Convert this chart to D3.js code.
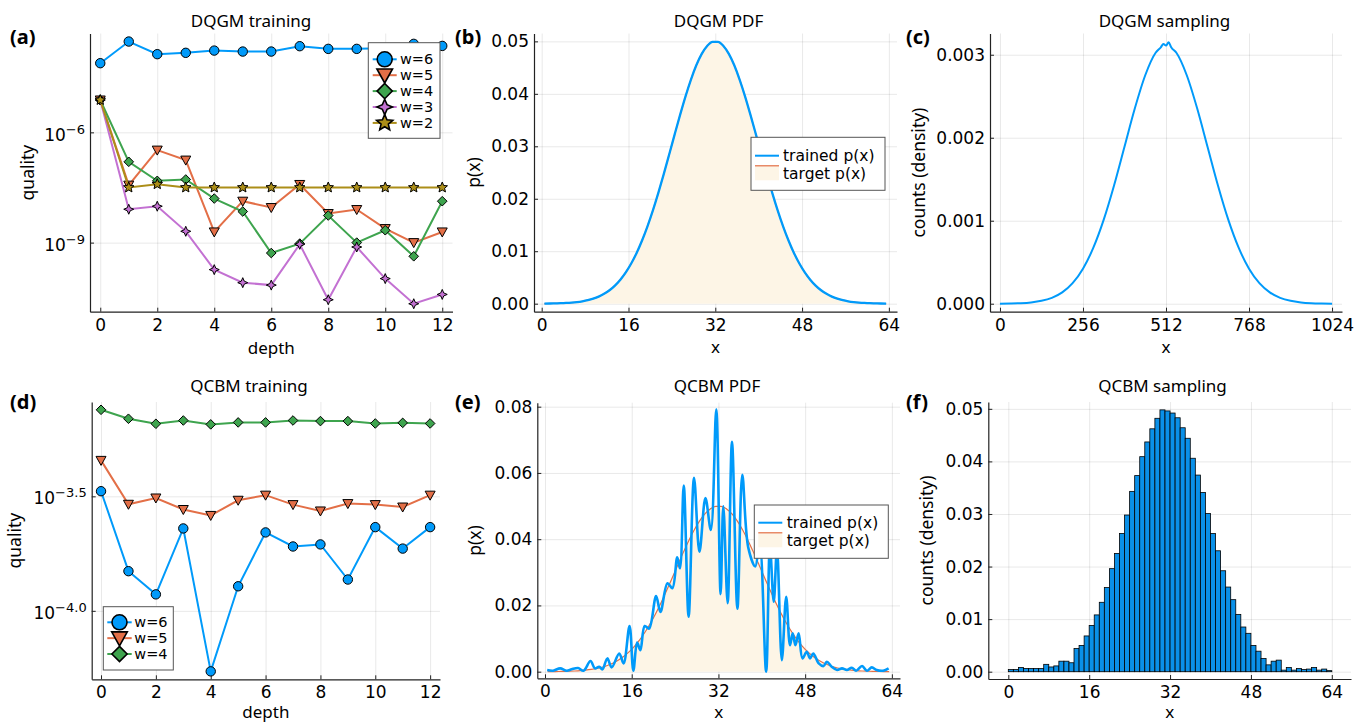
<!DOCTYPE html>
<html>
<head>
<meta charset="utf-8">
<script src="https://cdn.jsdelivr.net/npm/d3@7"></script>
<style>
  body { margin: 0; background: #fff; }
  svg { display: block; }
</style>
</head>
<body>
<div id="chart"></div>
<script>
// ---------------- data ----------------
const depths = [0, 1, 2, 3, 4, 5, 6, 7, 8, 9, 10, 11, 12];

// DQGM training quality vs depth (log scale)
const dqgmW6 = [7.62e-5, 2.96e-4, 1.34e-4, 1.46e-4, 1.68e-4, 1.58e-4, 1.58e-4, 2.21e-4, 1.87e-4, 1.87e-4, 1.95e-4, 2.56e-4, 2.25e-4];
const dqgmW5 = [7.6e-6, 3.66e-8, 3.29e-7, 1.76e-7, 1.95e-9, 1.34e-8, 9.0e-9, 3.82e-8, 6.18e-9, 7.94e-9, 2.41e-9, 1.0e-9, 1.95e-9];
const dqgmW4 = [7.6e-6, 1.58e-7, 4.79e-8, 5.22e-8, 1.58e-8, 7.02e-9, 5.21e-10, 9.4e-10, 5.46e-9, 1.0e-9, 2.17e-9, 4.24e-10, 1.34e-8];
const dqgmW3 = [7.6e-6, 8.09e-9, 9.77e-9, 2.03e-9, 1.84e-10, 8.13e-11, 6.98e-11, 9.0e-10, 2.79e-11, 7.59e-10, 1.05e-10, 2.17e-11, 3.89e-11];
const dqgmW2 = [7.6e-6, 3.16e-8, 3.89e-8, 3.16e-8, 3.16e-8, 3.16e-8, 3.16e-8, 3.16e-8, 3.16e-8, 3.16e-8, 3.16e-8, 3.16e-8, 3.16e-8];

// QCBM training quality vs depth (log scale)
const qcbmW6 = [3.33e-4, 1.49e-4, 1.18e-4, 2.29e-4, 5.44e-5, 1.28e-4, 2.20e-4, 1.91e-4, 1.95e-4, 1.37e-4, 2.32e-4, 1.87e-4, 2.32e-4];
const qcbmW5 = [4.54e-4, 2.92e-4, 3.11e-4, 2.77e-4, 2.61e-4, 3.04e-4, 3.20e-4, 2.91e-4, 2.73e-4, 2.94e-4, 2.91e-4, 2.84e-4, 3.20e-4];
const qcbmW4 = [7.55e-4, 6.90e-4, 6.56e-4, 6.78e-4, 6.52e-4, 6.65e-4, 6.65e-4, 6.78e-4, 6.74e-4, 6.74e-4, 6.58e-4, 6.62e-4, 6.58e-4];

// target pdf p(x) on the 64-point grid
const gridX = [0.5, 1.5, 2.5, 3.5, 4.5, 5.5, 6.5, 7.5, 8.5, 9.5, 10.5, 11.5, 12.5, 13.5, 14.5, 15.5,
  16.5, 17.5, 18.5, 19.5, 20.5, 21.5, 22.5, 23.5, 24.5, 25.5, 26.5, 27.5, 28.5, 29.5, 30.5, 31.5,
  32.5, 33.5, 34.5, 35.5, 36.5, 37.5, 38.5, 39.5, 40.5, 41.5, 42.5, 43.5, 44.5, 45.5, 46.5, 47.5,
  48.5, 49.5, 50.5, 51.5, 52.5, 53.5, 54.5, 55.5, 56.5, 57.5, 58.5, 59.5, 60.5, 61.5, 62.5, 63.5];
const targetP = [0.00002, 0.00003, 0.00006, 0.00009, 0.00014, 0.00021, 0.00031, 0.00046, 0.00067, 0.00096, 0.00135, 0.00188, 0.00256, 0.00345, 0.00457, 0.00596,
  0.00765, 0.00967, 0.01204, 0.01475, 0.01779, 0.02113, 0.02470, 0.02843, 0.03222, 0.03594, 0.03948, 0.04268, 0.04544, 0.04762, 0.04913, 0.04990,
  0.04990, 0.04913, 0.04762, 0.04544, 0.04268, 0.03948, 0.03594, 0.03222, 0.02843, 0.02470, 0.02113, 0.01779, 0.01475, 0.01204, 0.00967, 0.00765,
  0.00596, 0.00457, 0.00345, 0.00256, 0.00188, 0.00135, 0.00096, 0.00067, 0.00046, 0.00031, 0.00021, 0.00014, 0.00009, 0.00006, 0.00003, 0.00002];
// DQGM trained pdf (lies on top of the target)
const dqgmTrainedP = [0.00002, 0.00003, 0.00006, 0.00009, 0.00014, 0.00021, 0.00031, 0.00046, 0.00067, 0.00096, 0.00135, 0.00188, 0.00256, 0.00345, 0.00457, 0.00596,
  0.00765, 0.00967, 0.01204, 0.01475, 0.01779, 0.02113, 0.02470, 0.02843, 0.03222, 0.03594, 0.03948, 0.04268, 0.04544, 0.04762, 0.04913, 0.04990,
  0.04990, 0.04913, 0.04762, 0.04544, 0.04268, 0.03948, 0.03594, 0.03222, 0.02843, 0.02470, 0.02113, 0.01779, 0.01475, 0.01204, 0.00967, 0.00765,
  0.00596, 0.00457, 0.00345, 0.00256, 0.00188, 0.00135, 0.00096, 0.00067, 0.00046, 0.00031, 0.00021, 0.00014, 0.00009, 0.00006, 0.00003, 0.00002];

// DQGM sampling density over 1024 points
const dqgmSampleX = [0, 32, 64, 96, 128, 160, 192, 224, 256, 288, 320, 352, 384, 416, 448, 480, 496, 504, 512, 520, 528,
  544, 576, 608, 640, 672, 704, 736, 768, 800, 832, 864, 896, 928, 960, 992, 1024];
const dqgmSampleY = [0.000001, 0.0000028, 0.0000068, 0.0000159, 0.0000347, 0.0000711, 0.000137, 0.000248, 0.000422, 0.000675,
  0.001013, 0.001428, 0.001892, 0.002355, 0.002753, 0.003024, 0.00309, 0.00313, 0.00311, 0.00315, 0.00309,
  0.003024, 0.002753, 0.002355, 0.001892, 0.001428, 0.001013, 0.000675, 0.000422, 0.000248, 0.000137,
  0.0000711, 0.0000347, 0.0000159, 0.0000068, 0.0000028, 0.000001];

// QCBM trained pdf (oscillating)
const qcbmTrainedX = [0.4, 1.5, 2.8, 4.0, 4.9, 6.1, 7.1, 8.4, 9.2, 10.0, 10.6, 11.5, 12.3, 13.7, 14.5, 15.6, 16.3, 17.0, 17.6,
  18.4, 19.2, 20.5, 21.3, 22.6, 23.5, 24.4, 24.9, 25.6, 26.5, 27.5, 28.5, 29.6, 30.6, 31.6, 32.4, 32.9, 33.7, 34.5, 35.5,
  36.4, 37.5, 38.8, 39.6, 40.8, 41.5, 42.2, 42.8, 43.7, 44.5, 45.2, 45.7, 46.2, 46.8, 47.5, 48.3, 48.9, 49.5, 50.5, 51.4,
  52.0, 52.9, 53.9, 54.8, 55.7, 56.6, 57.4, 58.5, 59.4, 60.3, 61.2, 62.4, 63.4];
const qcbmTrainedY = [0.0005, 0.0003, 0.0010, 0.0003, 0.0007, 0.0011, 0.0003, 0.0032, 0.0010, 0.0015, 0.0007, 0.0040, 0.0013, 0.0055, 0.0025, 0.0138, 0.0003, 0.0088, 0.0065,
  0.0138, 0.0130, 0.0228, 0.0180, 0.0267, 0.0252, 0.0345, 0.0312, 0.0562, 0.0166, 0.0585, 0.0362, 0.0524, 0.0428, 0.0792, 0.0234, 0.0499, 0.0207, 0.0694, 0.0190,
  0.0594, 0.0375, 0.0318, 0.0390, 0.0000, 0.0380, 0.0211, 0.0370, 0.0035, 0.0226, 0.0080, 0.0116, 0.0080, 0.0116, 0.0040, 0.0060, 0.0040, 0.0055, 0.0025, 0.0017,
  0.0030, 0.0015, 0.0005, 0.0010, 0.0005, 0.0012, 0.0003, 0.0017, 0.0003, 0.0013, 0.0005, 0.0003, 0.0010];

// QCBM sampling histogram, one bin per x = 0..63
const qcbmHist = [0.0004, 0.0004, 0.0008, 0.0006, 0.0006, 0.0006, 0.0006, 0.0014, 0.0009, 0.0011, 0.0020, 0.0020, 0.0017, 0.0044, 0.0050, 0.0068,
  0.0088, 0.0108, 0.0132, 0.0160, 0.0196, 0.0225, 0.0263, 0.0298, 0.0343, 0.0373, 0.0409, 0.0437, 0.0462, 0.0482, 0.0498, 0.0496,
  0.0492, 0.0483, 0.0464, 0.0444, 0.0406, 0.0374, 0.0341, 0.0301, 0.0263, 0.0230, 0.0192, 0.0161, 0.0137, 0.0109, 0.0085, 0.0073,
  0.0050, 0.0039, 0.0025, 0.0013, 0.0020, 0.0022, 0.0003, 0.0008, 0.0003, 0.0006, 0.0004, 0.0005, 0.0008, 0.0003, 0.0005, 0.0002];

// tick values
const depthTicks = [0, 2, 4, 6, 8, 10, 12];
const x64Ticks = [0, 16, 32, 48, 64];
const x1024Ticks = [0, 256, 512, 768, 1024];
const dqgmQualityTicks = [1e-9, 1e-6];
const qcbmQualityTicks = [Math.pow(10, -4), Math.pow(10, -3.5)];
const pdfTicksB = [0, 0.01, 0.02, 0.03, 0.04, 0.05];
const densTicksC = [0, 0.001, 0.002, 0.003];
const pdfTicksE = [0, 0.02, 0.04, 0.06, 0.08];
const densTicksF = [0, 0.01, 0.02, 0.03, 0.04, 0.05];

// ---------------- drawing ----------------
const W = 1357, H = 723;
const palette = ["#009AFA", "#E36F47", "#3EA44E", "#C371D2", "#AC8E18"];
const fillColor = "#FDF5E6";
const tickFont = "'DejaVu Sans', sans-serif";
const labelFont = "'Noto Sans', sans-serif";

const svg = d3.select("#chart").append("svg").attr("width", W).attr("height", H);

function markerPath(shape, r) {
  const p = d3.path();
  if (shape === "circle") {
    p.moveTo(r, 0); p.arc(0, 0, r, 0, 2 * Math.PI);
  } else if (shape === "dtriangle") {
    p.moveTo(-r, -0.8 * r); p.lineTo(r, -0.8 * r); p.lineTo(0, r); p.closePath();
  } else if (shape === "diamond") {
    p.moveTo(0, -r); p.lineTo(r, 0); p.lineTo(0, r); p.lineTo(-r, 0); p.closePath();
  } else if (shape === "star4") {
    const k = r * 0.3;
    p.moveTo(0, -r); p.lineTo(k, -k); p.lineTo(r, 0); p.lineTo(k, k);
    p.lineTo(0, r); p.lineTo(-k, k); p.lineTo(-r, 0); p.lineTo(-k, -k); p.closePath();
  } else if (shape === "star5") {
    for (let i = 0; i < 10; i++) {
      const a = -Math.PI / 2 + i * Math.PI / 5, rr = i % 2 ? r * 0.45 : r;
      if (i) p.lineTo(rr * Math.cos(a), rr * Math.sin(a)); else p.moveTo(rr * Math.cos(a), rr * Math.sin(a));
    }
    p.closePath();
  }
  return p.toString();
}

function frame(p) {
  const x = d3.scaleLinear().domain(p.xDomain).range([p.left, p.right]);
  const y = (p.yLog ? d3.scaleLog() : d3.scaleLinear()).domain(p.yDomain).range([p.bottom, p.top]);
  const g = svg.append("g");

  // grid
  g.append("g").attr("transform", `translate(0,${p.bottom})`)
    .call(d3.axisBottom(x).tickValues(p.xTicks).tickSize(-(p.bottom - p.top)).tickFormat(""))
    .call(a => a.select(".domain").remove())
    .selectAll("line").attr("stroke", "#000").attr("stroke-opacity", 0.09).attr("stroke-width", 1);
  g.append("g").attr("transform", `translate(${p.left},0)`)
    .call(d3.axisLeft(y).tickValues(p.yTicks).tickSize(-(p.right - p.left)).tickFormat(""))
    .call(a => a.select(".domain").remove())
    .selectAll("line").attr("stroke", "#000").attr("stroke-opacity", 0.09).attr("stroke-width", 1);

  // axes
  const xa = g.append("g").attr("transform", `translate(0,${p.bottom})`)
    .call(d3.axisBottom(x).tickValues(p.xTicks).tickSize(-4).tickSizeOuter(0).tickPadding(7).tickFormat(d3.format("d")))
    .attr("font-family", tickFont).attr("font-size", 17);
  const ya = g.append("g").attr("transform", `translate(${p.left},0)`)
    .call(d3.axisLeft(y).tickValues(p.yTicks).tickSize(-4).tickSizeOuter(0).tickPadding(5)
      .tickFormat(p.yLog ? () => "" : d3.format(p.yFormat)))
    .attr("font-family", tickFont).attr("font-size", 17);
  [xa, ya].forEach(a => {
    a.select(".domain").attr("stroke", "#222").attr("stroke-width", 1.2);
    a.selectAll(".tick line").attr("stroke", "#222").attr("stroke-width", 1);
    a.selectAll(".tick text").attr("fill", "#000");
  });
  if (p.yLog) {
    ya.selectAll(".tick text").attr("dy", "0.45em").each(function (d) {
      const t = d3.select(this);
      t.append("tspan").text("10");
      t.append("tspan").attr("dy", -7).attr("font-size", 13)
        .text("\u2212" + d3.format(p.expFormat)(-Math.log10(d)));
    });
  }

  // title, guides, tag
  svg.append("text").attr("x", p.titleX).attr("y", p.titleY).attr("text-anchor", "middle")
    .attr("font-family", labelFont).attr("font-size", 17).text(p.title);
  svg.append("text").attr("x", (p.left + p.right) / 2).attr("y", p.xLabelY).attr("text-anchor", "middle")
    .attr("font-family", labelFont).attr("font-size", 17).text(p.xLabel);
  svg.append("text").attr("transform", `translate(${p.yLabelX},${(p.top + p.bottom) / 2}) rotate(-90)`)
    .attr("text-anchor", "middle").attr("font-family", labelFont).attr("font-size", 17.5).text(p.yLabel);
  svg.append("text").attr("x", p.tagX).attr("y", p.tagY).attr("font-family", labelFont)
    .attr("font-weight", "bold").attr("font-size", 20).text(p.tag);

  return { x, y };
}

function markerSeries(sc, xs, ys, color, shape, r) {
  const pts = xs.map((d, i) => [d, ys[i]]);
  svg.append("path").datum(pts)
    .attr("fill", "none").attr("stroke", color).attr("stroke-width", 2)
    .attr("d", d3.line().x(d => sc.x(d[0])).y(d => sc.y(d[1])));
  svg.append("g").selectAll("path").data(pts).join("path")
    .attr("transform", d => `translate(${sc.x(d[0])},${sc.y(d[1])})`)
    .attr("d", markerPath(shape, r))
    .attr("fill", color).attr("stroke", "#000").attr("stroke-width", 1);
}

function legendBox(b) {
  svg.append("rect").attr("x", b.x0).attr("y", b.y0).attr("width", b.x1 - b.x0).attr("height", b.y1 - b.y0)
    .attr("fill", "#fff").attr("stroke", "#555").attr("stroke-width", 1);
}

function markerLegend(b, items) {
  legendBox(b);
  items.forEach((it, i) => {
    const yy = b.first + i * b.step;
    svg.append("line").attr("x1", b.lx0).attr("x2", b.lx1).attr("y1", yy).attr("y2", yy)
      .attr("stroke", it.color).attr("stroke-width", 2);
    svg.append("path").attr("transform", `translate(${(b.lx0 + b.lx1) / 2},${yy})`)
      .attr("d", markerPath(it.shape, it.r)).attr("fill", it.color).attr("stroke", "#000").attr("stroke-width", 1.6);
    svg.append("text").attr("x", b.tx).attr("y", yy + 5).attr("font-family", tickFont).attr("font-size", 14.5)
      .text(it.label);
  });
}

function pdfLegend(b) {
  legendBox(b);
  svg.append("line").attr("x1", b.lx0).attr("x2", b.lx1).attr("y1", b.first).attr("y2", b.first)
    .attr("stroke", palette[0]).attr("stroke-width", 2);
  svg.append("text").attr("x", b.tx).attr("y", b.first + 5.5).attr("font-family", tickFont).attr("font-size", 15.5)
    .text("trained p(x)");
  const y2 = b.first + b.step;
  svg.append("rect").attr("x", b.lx0).attr("y", y2 - 8).attr("width", b.lx1 - b.lx0).attr("height", 15).attr("fill", fillColor);
  svg.append("line").attr("x1", b.lx0).attr("x2", b.lx1).attr("y1", y2 - 7.5).attr("y2", y2 - 7.5)
    .attr("stroke", palette[1]).attr("stroke-width", 1.2);
  svg.append("text").attr("x", b.tx).attr("y", y2 + 5.5).attr("font-family", tickFont).attr("font-size", 15.5)
    .text("target p(x)");
}

function pdfPanel(sc, trainedX, trainedY, curve, width) {
  const tpts = gridX.map((d, i) => [d, targetP[i]]);
  svg.append("path").datum(tpts).attr("fill", fillColor)
    .attr("d", d3.area().curve(d3.curveMonotoneX).x(d => sc.x(d[0])).y0(sc.y(0)).y1(d => sc.y(d[1])));
  svg.append("path").datum(tpts).attr("fill", "none").attr("stroke", palette[1]).attr("stroke-width", 1.2)
    .attr("d", d3.line().curve(d3.curveMonotoneX).x(d => sc.x(d[0])).y(d => sc.y(d[1])));
  svg.append("path").datum(trainedX.map((d, i) => [d, trainedY[i]]))
    .attr("fill", "none").attr("stroke", palette[0]).attr("stroke-width", width).attr("stroke-linejoin", "round")
    .attr("d", d3.line().curve(curve).x(d => sc.x(d[0])).y(d => sc.y(d[1])));
}

// (a) DQGM training
const A = frame({
  left: 90, right: 452.5, top: 33.5, bottom: 311.7,
  xDomain: [-0.36, 12.36], yLog: true, yDomain: [Math.pow(10, -10.88), Math.pow(10, -3.31)],
  xTicks: depthTicks, yTicks: dqgmQualityTicks, expFormat: "d",
  title: "DQGM training", titleX: 251, titleY: 27.3, xLabel: "depth", xLabelY: 354,
  yLabel: "quality", yLabelX: 34, tag: "(a)", tagX: 10, tagY: 44
});
markerSeries(A, depths, dqgmW6, palette[0], "circle", 4.7);
markerSeries(A, depths, dqgmW5, palette[1], "dtriangle", 5);
markerSeries(A, depths, dqgmW4, palette[2], "diamond", 4.8);
markerSeries(A, depths, dqgmW3, palette[3], "star4", 5);
markerSeries(A, depths, dqgmW2, palette[4], "star5", 5.5);
markerLegend({ x0: 368.3, x1: 440, y0: 42.7, y1: 138.3, first: 59.3, step: 15.9, lx0: 372.7, lx1: 396.7, tx: 400 }, [
  { label: "w=6", color: palette[0], shape: "circle", r: 7.5 },
  { label: "w=5", color: palette[1], shape: "dtriangle", r: 7.8 },
  { label: "w=4", color: palette[2], shape: "diamond", r: 7.6 },
  { label: "w=3", color: palette[3], shape: "star4", r: 7.8 },
  { label: "w=2", color: palette[4], shape: "star5", r: 8.5 }
]);

// (b) DQGM PDF
const B = frame({
  left: 534, right: 897, top: 33.5, bottom: 311.7,
  xDomain: [-1.42, 65.5], yDomain: [-0.00153, 0.0515], xTicks: x64Ticks, yTicks: pdfTicksB, yFormat: ".2f",
  title: "DQGM PDF", titleX: 718.5, titleY: 27.3, xLabel: "x", xLabelY: 352.5,
  yLabel: "p(x)", yLabelX: 479.5, tag: "(b)", tagX: 455, tagY: 44
});
pdfPanel(B, gridX, dqgmTrainedP, d3.curveMonotoneX, 2.3);
pdfLegend({ x0: 751, x1: 885, y0: 137.3, y1: 190.3, first: 155.7, step: 17.6, lx0: 755, lx1: 779, tx: 783 });

// (c) DQGM sampling
const C = frame({
  left: 990, right: 1342, top: 33.5, bottom: 311.7,
  xDomain: [-30.7, 1054.7], yDomain: [-0.0000962, 0.003256], xTicks: x1024Ticks, yTicks: densTicksC, yFormat: ".3f",
  title: "DQGM sampling", titleX: 1164.5, titleY: 27.3, xLabel: "x", xLabelY: 352.5,
  yLabel: "counts (density)", yLabelX: 924.5, tag: "(c)", tagX: 906, tagY: 44
});
svg.append("path").datum(dqgmSampleX.map((d, i) => [d, dqgmSampleY[i]]))
  .attr("fill", "none").attr("stroke", palette[0]).attr("stroke-width", 2)
  .attr("d", d3.line().curve(d3.curveMonotoneX).x(d => C.x(d[0])).y(d => C.y(d[1])));

// (d) QCBM training
const D = frame({
  left: 91.7, right: 440, top: 402, bottom: 679.3,
  xDomain: [-0.34, 12.36], yLog: true, yDomain: [Math.pow(10, -4.299), Math.pow(10, -3.088)],
  xTicks: depthTicks, yTicks: qcbmQualityTicks, expFormat: ".1f",
  title: "QCBM training", titleX: 249, titleY: 392, xLabel: "depth", xLabelY: 717.5,
  yLabel: "quality", yLabelX: 21, tag: "(d)", tagX: 10, tagY: 409
});
markerSeries(D, depths, qcbmW6, palette[0], "circle", 4.7);
markerSeries(D, depths, qcbmW5, palette[1], "dtriangle", 5);
markerSeries(D, depths, qcbmW4, palette[2], "diamond", 4.8);
markerLegend({ x0: 103.3, x1: 173.3, y0: 606.7, y1: 670, first: 622.3, step: 15.85, lx0: 107.3, lx1: 131.7, tx: 134.3 }, [
  { label: "w=6", color: palette[0], shape: "circle", r: 7.5 },
  { label: "w=5", color: palette[1], shape: "dtriangle", r: 7.8 },
  { label: "w=4", color: palette[2], shape: "diamond", r: 7.6 }
]);

// (e) QCBM PDF
const E = frame({
  left: 537.3, right: 900, top: 402.7, bottom: 678.3,
  xDomain: [-1.42, 65.5], yDomain: [-0.002, 0.0812], xTicks: x64Ticks, yTicks: pdfTicksE, yFormat: ".2f",
  title: "QCBM PDF", titleX: 717, titleY: 392, xLabel: "x", xLabelY: 717.5,
  yLabel: "p(x)", yLabelX: 481, tag: "(e)", tagX: 455, tagY: 409
});
pdfPanel(E, qcbmTrainedX, qcbmTrainedY, d3.curveCatmullRom.alpha(0.5), 2.6);
pdfLegend({ x0: 754.3, x1: 888.3, y0: 505, y1: 558.3, first: 522.7, step: 17.6, lx0: 758.3, lx1: 782.3, tx: 786.7 });

// (f) QCBM sampling
const F = frame({
  left: 988.3, right: 1351, top: 402, bottom: 679,
  xDomain: [-3.96, 67.8], yDomain: [-0.00139, 0.0513], xTicks: x64Ticks, yTicks: densTicksF, yFormat: ".2f",
  title: "QCBM sampling", titleX: 1162.5, titleY: 392, xLabel: "x", xLabelY: 717.5,
  yLabel: "counts (density)", yLabelX: 933, tag: "(f)", tagX: 906, tagY: 409
});
svg.append("g").selectAll("rect").data(qcbmHist).join("rect")
  .attr("x", (d, i) => F.x(i)).attr("width", (d, i) => F.x(i + 1) - F.x(i))
  .attr("y", d => F.y(d)).attr("height", d => F.y(0) - F.y(d))
  .attr("fill", "#0A90E8").attr("stroke", "#000").attr("stroke-width", 0.8);
</script>
</body>
</html>
